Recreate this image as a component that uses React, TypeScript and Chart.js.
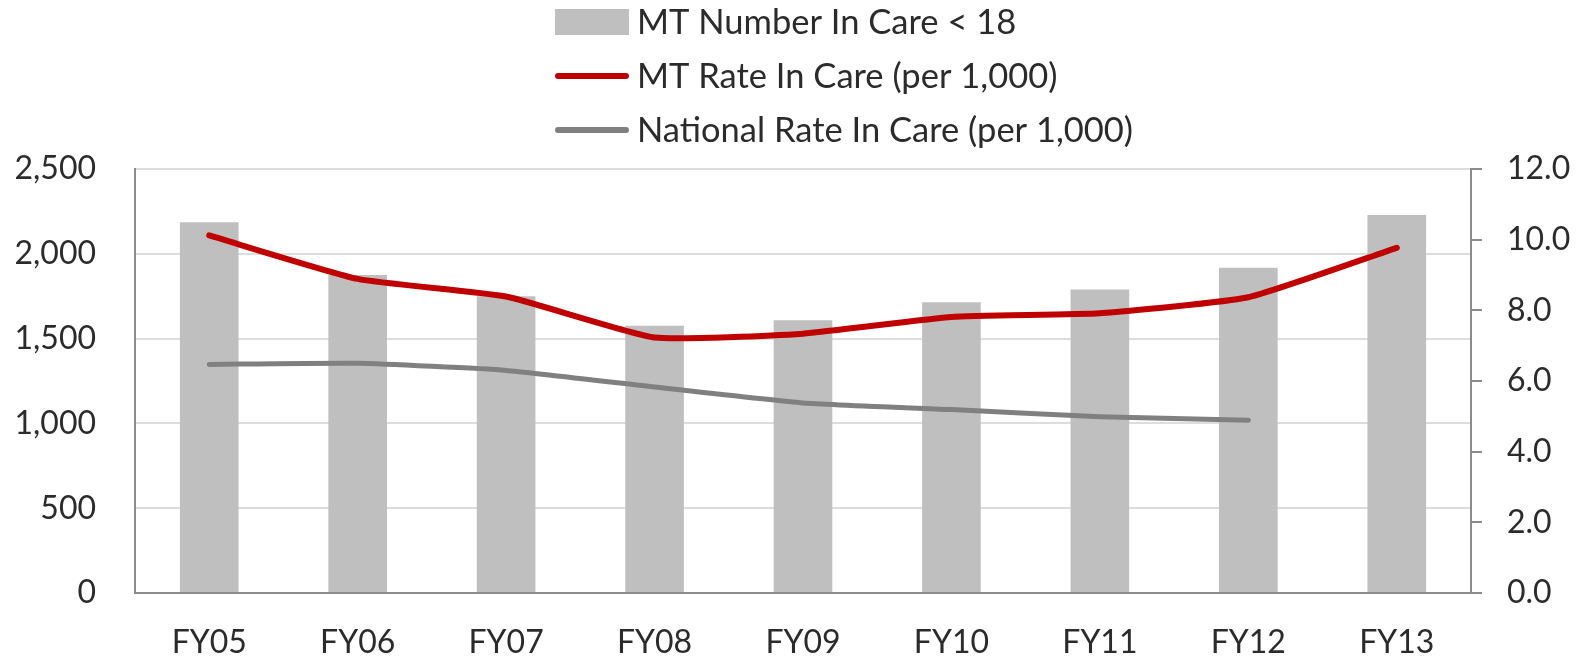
import React, { useEffect, useRef } from "react";
import { Chart, registerables } from "chart.js";

Chart.register(...registerables);

const categories = ["FY05", "FY06", "FY07", "FY08", "FY09", "FY10", "FY11", "FY12", "FY13"];
const mtNumberInCare = [2186, 1875, 1749, 1576, 1608, 1715, 1790, 1918, 2229];
const mtRateInCare = [10.12, 8.89, 8.39, 7.23, 7.34, 7.81, 7.92, 8.37, 9.77];
const nationalRateInCare = [6.47, 6.5, 6.3, 5.83, 5.38, 5.19, 4.99, 4.89, null];

const leftTicks = [0, 500, 1000, 1500, 2000, 2500];
const rightTicks = [0, 2, 4, 6, 8, 10, 12];

const FONT = "Lato, 'Noto Sans', sans-serif";
const TEXT = "#2B2B2B";
const AXIS = "#8C8C8C";

const legendPlugin = {
  id: "stackedLegend",
  afterDraw(chart: any) {
    const ctx = chart.ctx;
    const ds = chart.data.datasets;
    const rows = [22, 76, 130];
    const x0 = 555;
    const x1 = 629;
    ctx.save();
    ctx.font = `34.5px ${FONT}`;
    ctx.fillStyle = TEXT;
    ctx.textBaseline = "middle";
    ctx.textAlign = "left";
    ds.forEach((d: any, i: number) => {
      const y = rows[i];
      if (d.type === "bar") {
        ctx.fillStyle = d.backgroundColor;
        ctx.fillRect(x0, y - 13, x1 - x0, 26);
      } else {
        ctx.strokeStyle = d.borderColor;
        ctx.lineWidth = 6;
        ctx.lineCap = "round";
        ctx.beginPath();
        ctx.moveTo(x0 + 3, y);
        ctx.lineTo(x1 - 3, y);
        ctx.stroke();
      }
      ctx.fillStyle = TEXT;
      ctx.fillText(d.label, 637, y + 1);
    });
    ctx.restore();
  },
};

export default function App() {
  const canvasRef = useRef<HTMLCanvasElement | null>(null);

  useEffect(() => {
    document.body.style.margin = "0";
    const canvas = canvasRef.current;
    if (!canvas) return;
    const chart = new Chart(canvas, {
      type: "bar",
      data: {
        labels: categories,
        datasets: [
          {
            type: "bar",
            label: "MT Number In Care < 18",
            data: mtNumberInCare,
            backgroundColor: "#BFBFBF",
            yAxisID: "y",
            barPercentage: 0.395,
            categoryPercentage: 1,
            order: 3,
          } as any,
          {
            type: "line",
            label: "MT Rate In Care (per 1,000)",
            data: mtRateInCare,
            borderColor: "#C00000",
            backgroundColor: "#C00000",
            borderWidth: 6,
            borderCapStyle: "round",
            borderJoinStyle: "round",
            pointRadius: 0,
            tension: 0.15,
            yAxisID: "y1",
            order: 1,
          },
          {
            type: "line",
            label: "National Rate In Care (per 1,000)",
            data: nationalRateInCare,
            borderColor: "#808080",
            backgroundColor: "#808080",
            borderWidth: 5,
            borderCapStyle: "round",
            borderJoinStyle: "round",
            pointRadius: 0,
            tension: 0.15,
            yAxisID: "y1",
            order: 2,
          },
        ],
      },
      options: {
        animation: false,
        responsive: false,
        maintainAspectRatio: false,
        layout: { padding: { top: 169, left: 0, right: 0, bottom: 0 } },
        plugins: {
          legend: { display: false },
          tooltip: { enabled: false },
        },
        scales: {
          x: {
            grid: { display: false },
            border: { display: true, color: AXIS, width: 2 },
            ticks: {
              color: TEXT,
              font: { family: FONT, size: 32 },
              padding: 22,
              maxRotation: 0,
            },
            afterFit: (s: any) => {
              s.height = 66;
            },
          },
          y: {
            position: "left",
            min: 0,
            max: 2500,
            afterBuildTicks: (s: any) => {
              s.ticks = leftTicks.map((v) => ({ value: v }));
            },
            grid: { color: "#DDDDDD", lineWidth: 2, drawTicks: false },
            border: { display: true, color: AXIS, width: 2 },
            ticks: {
              color: TEXT,
              font: { family: FONT, size: 32 },
              padding: 39,
              callback: (v: any) => Number(v).toLocaleString("en-US"),
            },
            afterFit: (s: any) => {
              s.width = 135;
            },
          },
          y1: {
            position: "right",
            min: 0,
            max: 12,
            afterBuildTicks: (s: any) => {
              s.ticks = rightTicks.map((v) => ({ value: v }));
            },
            grid: {
              drawOnChartArea: false,
              drawTicks: true,
              tickLength: 11,
              color: AXIS,
              lineWidth: 2,
            },
            border: { display: true, color: AXIS, width: 2 },
            ticks: {
              color: TEXT,
              font: { family: FONT, size: 32 },
              padding: 25,
              callback: (v: any) => Number(v).toFixed(1),
            },
            afterFit: (s: any) => {
              s.width = 120;
            },
          },
        },
      },
      plugins: [legendPlugin],
    });
    return () => chart.destroy();
  }, []);

  return (
    <div style={{ width: 1591, height: 659, background: "#fff" }}>
      <canvas ref={canvasRef} width={1591} height={659} style={{ display: "block" }} />
    </div>
  );
}
